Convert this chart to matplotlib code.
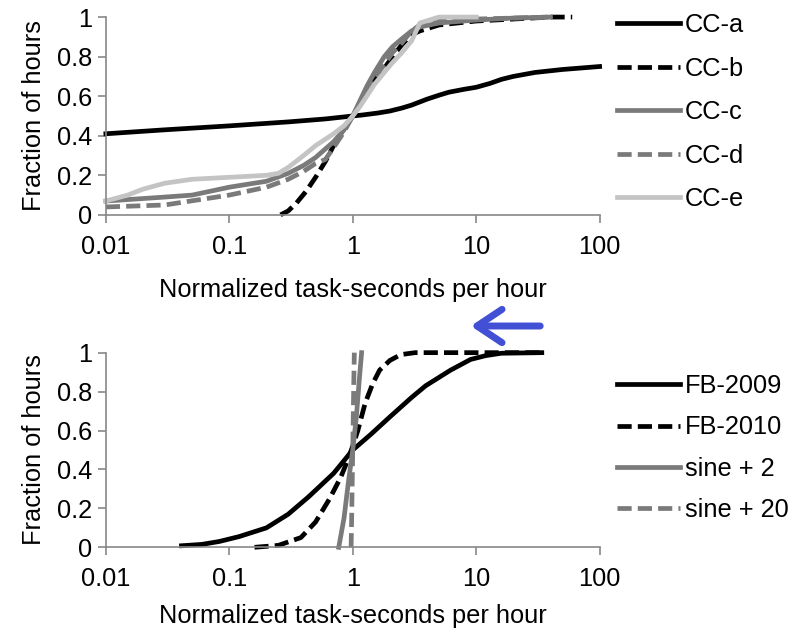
import numpy as np
import matplotlib
matplotlib.use('Agg')
import matplotlib.pyplot as plt
from matplotlib.ticker import FixedLocator, NullLocator

plt.rcParams['font.family'] = ['Liberation Sans', 'DejaVu Sans']

# top panel data
cca_x = [0.01, 0.03, 0.1, 0.3, 0.6, 1, 1.2, 1.6, 2, 2.5, 3, 4, 5, 6, 8, 10, 13, 16, 20, 30, 50, 100]
cca_y = [0.41, 0.43, 0.45, 0.47, 0.485, 0.50, 0.505, 0.515, 0.525, 0.54, 0.555, 0.585, 0.605, 0.62, 0.635, 0.645, 0.665, 0.685, 0.70, 0.72, 0.735, 0.75]
ccb_x = [0.26, 0.3, 0.35, 0.42, 0.5, 0.6, 0.7, 0.8, 0.9, 1, 1.15, 1.3, 1.5, 1.8, 2.1, 2.5, 3, 3.5, 5, 10, 20, 40, 60]
ccb_y = [0.0, 0.02, 0.06, 0.12, 0.19, 0.27, 0.35, 0.41, 0.46, 0.5, 0.56, 0.62, 0.68, 0.74, 0.8, 0.86, 0.91, 0.93, 0.96, 0.98, 0.99, 1.0, 1.0]
ccc_x = [0.01, 0.03, 0.05, 0.1, 0.2, 0.3, 0.4, 0.5, 0.7, 0.85, 1, 1.15, 1.3, 1.5, 1.8, 2.1, 2.5, 3, 3.5, 5, 10, 20, 40]
ccc_y = [0.07, 0.09, 0.10, 0.14, 0.17, 0.21, 0.25, 0.29, 0.37, 0.43, 0.5, 0.58, 0.65, 0.72, 0.80, 0.85, 0.89, 0.93, 0.95, 0.97, 0.985, 0.995, 1.0]
ccd_x = [0.01, 0.03, 0.1, 0.2, 0.3, 0.4, 0.5, 0.6, 0.7, 0.85, 1, 1.15, 1.3, 1.5, 1.8, 2.1, 2.5, 3, 3.5, 5, 10, 40]
ccd_y = [0.04, 0.05, 0.10, 0.14, 0.18, 0.22, 0.26, 0.28, 0.34, 0.42, 0.5, 0.56, 0.62, 0.69, 0.76, 0.82, 0.87, 0.93, 0.96, 0.98, 0.99, 1.0]
cce_x = [0.01, 0.015, 0.02, 0.03, 0.05, 0.1, 0.2, 0.25, 0.3, 0.4, 0.5, 0.7, 0.85, 1, 1.15, 1.3, 1.5, 1.8, 2.1, 2.5, 3, 3.5, 5, 10]
cce_y = [0.07, 0.10, 0.13, 0.16, 0.18, 0.19, 0.20, 0.21, 0.24, 0.30, 0.35, 0.41, 0.45, 0.5, 0.55, 0.6, 0.66, 0.72, 0.77, 0.82, 0.88, 0.97, 1.0, 1.0]

# bottom panel data
fb09_x = [0.041, 0.06, 0.083, 0.12, 0.2, 0.3, 0.44, 0.7, 1, 1.4, 2, 3, 3.9, 6.2, 9, 12, 16, 34]
fb09_y = [0.008, 0.015, 0.03, 0.055, 0.10, 0.17, 0.26, 0.38, 0.5, 0.58, 0.67, 0.77, 0.83, 0.91, 0.965, 0.985, 0.997, 1.0]
fb10_x = [0.16, 0.25, 0.38, 0.5, 0.65, 0.8, 0.9, 1.0, 1.1, 1.26, 1.45, 1.65, 2, 2.45, 3.2, 34]
fb10_y = [0.0, 0.01, 0.05, 0.13, 0.25, 0.36, 0.44, 0.52, 0.6, 0.74, 0.84, 0.91, 0.96, 0.99, 1.0, 1.0]
sine2_x = [0.77, 0.85, 0.92, 1.0, 1.07, 1.13, 1.18]
sine2_y = [0.0, 0.15, 0.33, 0.5, 0.67, 0.86, 1.0]
sine20_x = [0.97, 0.98, 1.0, 1.02, 1.03]
sine20_y = [0.0, 0.15, 0.5, 0.85, 1.0]

xticks = [0.01, 0.1, 1, 10, 100]
xticklabels = ['0.01', '0.1', '1', '10', '100']
yticks = [0, 0.2, 0.4, 0.6, 0.8, 1]
yticklabels = ['0', '0.2', '0.4', '0.6', '0.8', '1']

BLACK = '#000000'
DARK = '#7a7a7a'
LIGHT = '#c4c4c4'
SPINE = '#888888'
FS = 18.3
LW = 3.4
DASH = (3.0, 1.3)

fig = plt.figure(figsize=(7.9, 6.32), dpi=100)
ax1 = fig.add_axes([0.134, 0.660, 0.625, 0.313])
ax2 = fig.add_axes([0.134, 0.134, 0.625, 0.308])


def style(ax, xpad):
    ax.set_xscale('log')
    ax.set_xlim(0.01, 100)
    ax.set_ylim(0, 1)
    ax.xaxis.set_major_locator(FixedLocator(xticks))
    ax.xaxis.set_minor_locator(NullLocator())
    ax.set_xticklabels(xticklabels)
    ax.set_yticks(yticks)
    ax.set_yticklabels(yticklabels)
    for s in ['top', 'right']:
        ax.spines[s].set_visible(False)
    for s in ['left', 'bottom']:
        ax.spines[s].set_color(SPINE)
        ax.spines[s].set_linewidth(1.2)
    ax.tick_params(direction='out', length=6, width=1.2, color=SPINE,
                   labelsize=FS, pad=4)
    ax.tick_params(axis='x', pad=8.5)
    ax.set_xlabel('Normalized task-seconds per hour', fontsize=FS, labelpad=xpad)
    ax.set_ylabel('Fraction of hours', fontsize=FS, labelpad=8)


ax1.plot(cca_x, cca_y, color=BLACK, lw=LW, label='CC-a', clip_on=False)
ax1.plot(ccb_x, ccb_y, color=BLACK, lw=LW, ls=(0, DASH), label='CC-b', clip_on=False)
ax1.plot(ccc_x, ccc_y, color=DARK, lw=LW, label='CC-c', clip_on=False)
ax1.plot(ccd_x, ccd_y, color=DARK, lw=LW, ls=(0, DASH), label='CC-d', clip_on=False)
ax1.plot(cce_x, cce_y, color=LIGHT, lw=LW, label='CC-e', clip_on=False)
style(ax1, 14)
ax1.legend(loc='upper left', bbox_to_anchor=(1.0, 1.11), frameon=False,
           fontsize=FS, handlelength=2.45, handletextpad=0.2, labelspacing=0.77,
           borderaxespad=0.3)

ax2.plot(fb09_x, fb09_y, color=BLACK, lw=LW, label='FB-2009', clip_on=False)
ax2.plot(fb10_x, fb10_y, color=BLACK, lw=LW, ls=(0, DASH), label='FB-2010', clip_on=False)
ax2.plot(sine2_x, sine2_y, color=DARK, lw=LW, label='sine + 2', clip_on=False)
ax2.plot(sine20_x, sine20_y, color=DARK, lw=LW, ls=(0, DASH), label='sine + 20', clip_on=False)
style(ax2, 9)
ax2.legend(loc='upper left', bbox_to_anchor=(1.0, 0.98), frameon=False,
           fontsize=FS, handlelength=2.45, handletextpad=0.2, labelspacing=0.675,
           borderaxespad=0.3)

# blue arrow pointing left, above the bottom panel
fig.patches.append(matplotlib.patches.FancyArrowPatch(
    (543 / 790, 1 - 326 / 632), (468 / 790, 1 - 326 / 632),
    transform=fig.transFigure, arrowstyle='->,head_length=0.9,head_width=0.6',
    mutation_scale=20, color='#4150d4', lw=5, capstyle='round',
    joinstyle='round'))

fig.savefig('out.png', dpi=100)
